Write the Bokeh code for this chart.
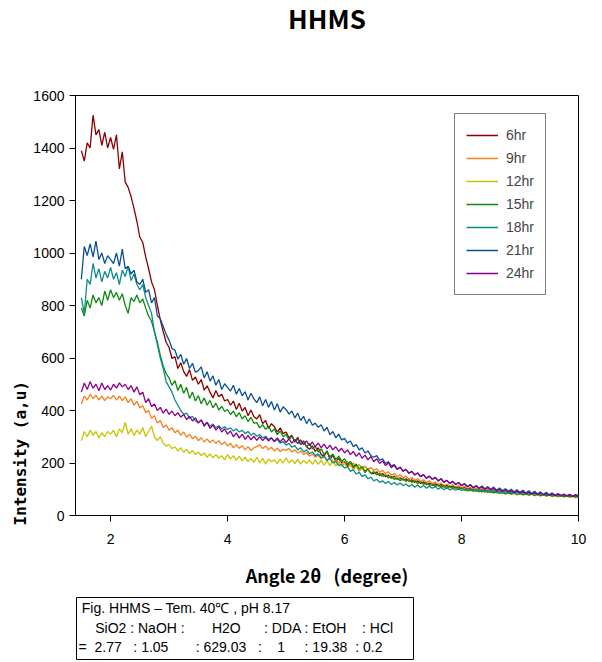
import numpy as np
from bokeh.plotting import figure
from bokeh.layouts import column
from bokeh.models import Legend, LegendItem, FixedTicker, Range1d, ColumnDataSource, Title
from bokeh.core.properties import value
from bokeh.embed import file_html
from bokeh.resources import INLINE

TITLE = "HHMS"
X_LABEL = "Angle 2\u03b8\u00a0\u00a0\u00a0(degree)"
Y_LABEL = "Intensity (a,u)"
SERIES_NAMES = ["6hr", "9hr", "12hr", "15hr", "18hr", "21hr", "24hr"]
ANGLE_START = 1.5
ANGLE_STEP = 0.05
X_TICKS = [2, 4, 6, 8, 10]
Y_TICKS = [0, 200, 400, 600, 800, 1000, 1200, 1400, 1600]

I_6HR = [1390, 1350, 1420, 1400, 1525, 1450, 1470, 1410, 1460, 1400,
         1440, 1395, 1450, 1320, 1385, 1270, 1250, 1215, 1170, 1120,
         1060, 1040, 985, 940, 890, 860, 800, 745, 700, 660,
         640, 598, 605, 560, 582, 548, 530, 556, 515, 528,
         500, 518, 478, 494, 470, 448, 476, 452, 462, 436,
         442, 420, 436, 404, 428, 398, 412, 380, 402, 376,
         368, 384, 350, 362, 332, 350, 338, 318, 334, 312,
         318, 296, 306, 280, 298, 270, 284, 262, 252, 266,
         244, 258, 232, 226, 246, 214, 230, 206, 218, 200,
         204, 190, 198, 178, 192, 170, 182, 164, 176, 160,
         160, 166, 152, 160, 148, 154, 142, 150, 138, 144,
         135, 140, 130, 136, 126, 132, 122, 128, 118, 124,
         115, 121, 112, 118, 108, 115, 106, 112, 104, 110,
         102, 108, 99, 105, 96, 103, 95, 101, 93, 99,
         92, 97, 89, 95, 87, 93, 86, 91, 84, 90,
         83, 88, 81, 87, 80, 85, 78, 84, 77, 83,
         76, 81, 75, 80, 74, 79, 73, 78, 72, 77,
         74]
I_9HR = [425, 455, 440, 462, 445, 458, 440, 455, 438, 452,
         445, 458, 440, 455, 438, 452, 430, 445, 420, 435,
         410, 418, 392, 400, 370, 380, 352, 362, 335, 345,
         325, 334, 315, 325, 305, 318, 298, 310, 292, 302,
         285, 296, 280, 292, 278, 288, 275, 285, 270, 280,
         265, 275, 258, 270, 256, 266, 250, 262, 248, 258,
         262, 270, 255, 265, 250, 260, 246, 256, 244, 252,
         248, 256, 242, 250, 238, 246, 232, 240, 226, 234,
         222, 230, 216, 224, 210, 218, 204, 212, 200, 208,
         198, 205, 192, 200, 186, 194, 180, 188, 176, 183,
         172, 178, 165, 172, 160, 166, 154, 160, 148, 155,
         144, 150, 138, 145, 134, 140, 130, 136, 126, 132,
         122, 128, 118, 124, 114, 120, 111, 117, 108, 114,
         105, 111, 102, 108, 99, 105, 97, 103, 95, 101,
         93, 98, 91, 96, 89, 94, 87, 92, 85, 90,
         84, 89, 82, 87, 81, 86, 80, 85, 79, 83,
         77, 82, 76, 81, 75, 80, 74, 79, 73, 78,
         75]
I_12HR = [285, 320, 300, 325, 305, 320, 295, 315, 300, 320,
          310, 325, 300, 330, 315, 355, 310, 330, 305, 325,
          310, 335, 300, 320, 340, 300, 285, 300, 275, 265,
          270, 255, 262, 245, 258, 240, 252, 236, 248, 232,
          242, 228, 238, 222, 235, 220, 232, 218, 228, 212,
          232, 215, 228, 210, 225, 208, 222, 205, 218, 202,
          222, 200, 218, 196, 215, 205, 212, 198, 215, 200,
          220, 200, 212, 198, 215, 196, 210, 198, 212, 195,
          212, 195, 210, 192, 208, 190, 210, 188, 205, 186,
          198, 182, 192, 176, 186, 172, 180, 166, 174, 160,
          168, 154, 162, 148, 156, 144, 150, 140, 146, 134,
          140, 128, 136, 124, 132, 120, 128, 117, 124, 114,
          120, 110, 116, 106, 113, 103, 110, 100, 107, 98,
          104, 95, 101, 93, 99, 91, 97, 89, 95, 87,
          92, 85, 90, 83, 88, 81, 86, 80, 85, 78,
          84, 77, 82, 76, 81, 75, 80, 74, 79, 73,
          78, 72, 77, 71, 76, 70, 75, 69, 74, 68,
          72]
I_15HR = [790, 760, 820, 790, 840, 810, 830, 800, 855, 820,
          860, 830, 850, 820, 845, 800, 770, 830, 815, 840,
          810, 825, 790, 760, 740, 700, 660, 610, 570, 540,
          524, 496, 514, 476, 500, 466, 488, 446, 470, 436,
          456, 426, 448, 420, 438, 410, 428, 402, 416, 396,
          404, 384, 398, 376, 392, 368, 380, 358, 374, 352,
          354, 334, 346, 328, 340, 318, 330, 308, 322, 300,
          310, 288, 302, 280, 292, 270, 284, 262, 274, 254,
          262, 242, 254, 232, 244, 224, 234, 214, 226, 206,
          216, 196, 206, 186, 196, 178, 186, 168, 178, 160,
          166, 156, 160, 150, 154, 144, 148, 138, 142, 133,
          140, 132, 136, 128, 132, 124, 128, 120, 124, 116,
          120, 112, 117, 109, 114, 106, 111, 104, 108, 101,
          105, 98, 102, 96, 100, 93, 98, 91, 96, 89,
          93, 87, 91, 85, 89, 83, 88, 82, 86, 80,
          84, 79, 83, 78, 82, 77, 81, 76, 80, 75,
          79, 74, 78, 73, 77, 72, 76, 71, 75, 70,
          73]
I_18HR = [830, 770, 900, 880, 960, 905, 940, 890, 930, 905,
          945, 900, 925, 880, 935, 910, 950, 895, 920, 880,
          860, 880, 830, 800, 770, 700, 650, 600, 560, 510,
          490, 470, 440, 420, 400, 385, 390, 370, 378, 360,
          355, 362, 345, 355, 340, 348, 335, 342, 330, 338,
          328, 334, 322, 330, 318, 325, 312, 320, 306, 314,
          302, 308, 296, 302, 290, 296, 282, 290, 275, 282,
          268, 275, 260, 266, 250, 258, 242, 250, 235, 242,
          228, 235, 220, 226, 210, 218, 200, 206, 190, 196,
          180, 186, 168, 175, 158, 165, 148, 155, 140, 146,
          132, 138, 126, 132, 122, 130, 118, 126, 116, 124,
          114, 120, 110, 118, 108, 116, 106, 114, 104, 112,
          104, 110, 100, 108, 98, 106, 97, 104, 96, 102,
          95, 101, 93, 99, 92, 98, 90, 96, 89, 95,
          88, 94, 86, 92, 85, 91, 84, 90, 83, 89,
          82, 88, 81, 86, 80, 85, 79, 84, 78, 83,
          77, 82, 76, 81, 75, 80, 74, 79, 73, 78,
          72]
I_21HR = [900, 1025, 990, 1035, 985, 1045, 975, 1000, 960, 990,
          975, 960, 1000, 950, 1015, 940, 950, 920, 935, 890,
          880, 900, 850, 860, 810, 830, 760, 750, 720, 690,
          668, 636, 630, 596, 614, 576, 598, 560, 580, 546,
          552, 566, 524, 548, 512, 532, 496, 518, 480, 502,
          488, 474, 496, 462, 484, 456, 472, 440, 466, 444,
          430, 452, 418, 442, 412, 434, 402, 426, 394, 414,
          404, 386, 398, 372, 390, 362, 378, 350, 368, 344,
          352, 336, 346, 322, 336, 308, 320, 296, 310, 288,
          294, 276, 284, 262, 270, 250, 258, 238, 246, 228,
          222, 228, 210, 216, 198, 205, 188, 194, 178, 184,
          170, 176, 162, 168, 155, 162, 148, 156, 142, 150,
          138, 146, 132, 140, 126, 134, 122, 130, 118, 126,
          114, 122, 110, 118, 106, 114, 104, 112, 102, 110,
          100, 108, 96, 105, 94, 102, 92, 100, 90, 98,
          88, 96, 86, 94, 84, 92, 82, 90, 80, 88,
          79, 86, 77, 84, 76, 82, 75, 81, 74, 80,
          76]
I_24HR = [470, 505, 480, 510, 485, 500, 475, 505, 480, 495,
          478, 500, 485, 505, 490, 500, 480, 495, 470, 490,
          460, 470, 430, 445, 415, 425, 400, 412, 390, 405,
          385, 398, 380, 392, 375, 385, 365, 378, 360, 372,
          352, 365, 340, 355, 332, 345, 325, 338, 318, 330,
          310, 322, 300, 315, 295, 310, 290, 305, 288, 302,
          286, 300, 285, 298, 284, 296, 282, 296, 280, 294,
          278, 292, 276, 290, 274, 288, 270, 284, 266, 280,
          262, 276, 258, 272, 254, 268, 250, 262, 244, 256,
          238, 250, 232, 244, 225, 238, 218, 230, 212, 224,
          205, 216, 198, 208, 190, 200, 182, 192, 175, 184,
          168, 176, 160, 168, 154, 162, 148, 156, 142, 150,
          138, 145, 132, 140, 127, 134, 122, 130, 118, 125,
          114, 120, 110, 116, 106, 112, 103, 109, 100, 106,
          97, 103, 94, 100, 92, 98, 90, 95, 88, 93,
          86, 91, 84, 89, 82, 87, 80, 85, 79, 84,
          77, 82, 76, 81, 75, 80, 74, 78, 72, 77,
          70]

SERIES = [I_6HR, I_9HR, I_12HR, I_15HR, I_18HR, I_21HR, I_24HR]
COLORS = ["#8b0000", "#f7801e", "#c8c400", "#0c8a0c", "#0f8c8c", "#0b4f96", "#8b008b"]

NB = "\u00a0"
NOTE_LINES = [
    "Fig. HHMS \u2013 Tem. 40\u2103 , pH 8.17",
    "SiO2 : NaOH :" + NB * 7 + "H2O" + NB * 6 + ": DDA : EtOH" + NB * 4 + ": HCl",
    "=" + NB * 2 + "2.77" + NB * 3 + ": 1.05" + NB * 7 + ": 629.03" + NB * 3 + ":"
    + NB * 4 + "1" + NB * 5 + ": 19.38" + NB * 2 + ": 0.2",
]

BORDER_L, BORDER_R = 75, 24


def bare(fig):
    fig.axis.visible = False
    fig.grid.visible = False
    fig.outline_line_color = None
    fig.background_fill_color = "white"
    fig.border_fill_color = "white"
    return fig


# ---------------- title strip ----------------
tf = bare(figure(width=602, height=44, output_backend="svg", toolbar_location=None,
                 x_range=Range1d(0, 503), y_range=Range1d(0, 44),
                 min_border_left=BORDER_L, min_border_right=BORDER_R,
                 min_border_top=0, min_border_bottom=0))
tf.text(x=[251.5], y=[27], text=[TITLE], text_align="center", text_baseline="middle",
        text_font=value("Noto Sans CJK KR"), text_font_style="bold",
        text_font_size="26px", text_color="black")

# ---------------- main chart ----------------
p = figure(width=602, height=546, output_backend="svg", toolbar_location=None,
           x_range=Range1d(1.4, 10), y_range=Range1d(0, 1600),
           min_border_left=BORDER_L, min_border_right=BORDER_R,
           min_border_top=51, min_border_bottom=75)
p.grid.visible = False
p.outline_line_color = "black"
p.outline_line_alpha = 1
p.outline_line_width = 1
p.background_fill_color = "white"
p.border_fill_color = "white"

xa = p.xaxis[0]
ya = p.yaxis[0]
for ax in (xa, ya):
    ax.axis_line_color = "black"
    ax.major_tick_line_color = "black"
    ax.major_tick_in = 0
    ax.major_tick_out = 6
    ax.minor_tick_line_color = None
    ax.major_label_text_font = "Liberation Sans"
    ax.major_label_text_font_size = "14px"
    ax.major_label_text_color = "black"
xa.ticker = FixedTicker(ticks=X_TICKS)
ya.ticker = FixedTicker(ticks=Y_TICKS)
xa.major_label_standoff = 12
ya.major_label_standoff = 5
xa.axis_label = X_LABEL
xa.axis_label_text_font = "Noto Sans CJK KR"
xa.axis_label_text_font_style = "bold"
xa.axis_label_text_font_size = "18px"
xa.axis_label_text_color = "black"
xa.axis_label_standoff = 15

p.add_layout(Title(text=Y_LABEL, align="left", offset=-10, standoff=2,
                   text_font="DejaVu Sans Mono", text_font_style="bold",
                   text_font_size="16px", text_color="black"), "left")

angle = np.round(ANGLE_START + ANGLE_STEP * np.arange(len(I_6HR)), 2)
items = []
for name, vals, col in zip(SERIES_NAMES, SERIES, COLORS):
    r = p.line(angle, vals, line_color=col, line_width=1.3)
    items.append(LegendItem(label=name, renderers=[r]))

legend = Legend(items=items, location=(379, 220), border_line_color="black",
                border_line_width=1, background_fill_color="white", background_fill_alpha=1,
                label_text_font="Liberation Sans", label_text_font_size="14px",
                glyph_width=32, glyph_height=20, label_height=20, spacing=3,
                padding=11, margin=0, label_standoff=8)
p.add_layout(legend, "center")

# ---------------- note box ----------------
box = bare(figure(width=602, height=70, output_backend="svg", toolbar_location=None,
                  x_range=Range1d(-1, 502), y_range=Range1d(0, 64),
                  min_border_left=BORDER_L, min_border_right=BORDER_R,
                  min_border_top=6, min_border_bottom=0))
box.quad(left=[0], right=[337], bottom=[1], top=[63], fill_color="white",
         line_color="black", line_width=1)
note_src = ColumnDataSource(dict(x=[5.3, 18.7, 2], y=[53, 33, 14], text=NOTE_LINES))
box.text(x="x", y="y", text="text", source=note_src, text_align="left",
         text_baseline="middle", text_font=value("Liberation Sans"),
         text_font_size="14px", text_color="black")

layout = column(tf, p, box, spacing=0)
open("out.html", "w").write(file_html(layout, INLINE))
